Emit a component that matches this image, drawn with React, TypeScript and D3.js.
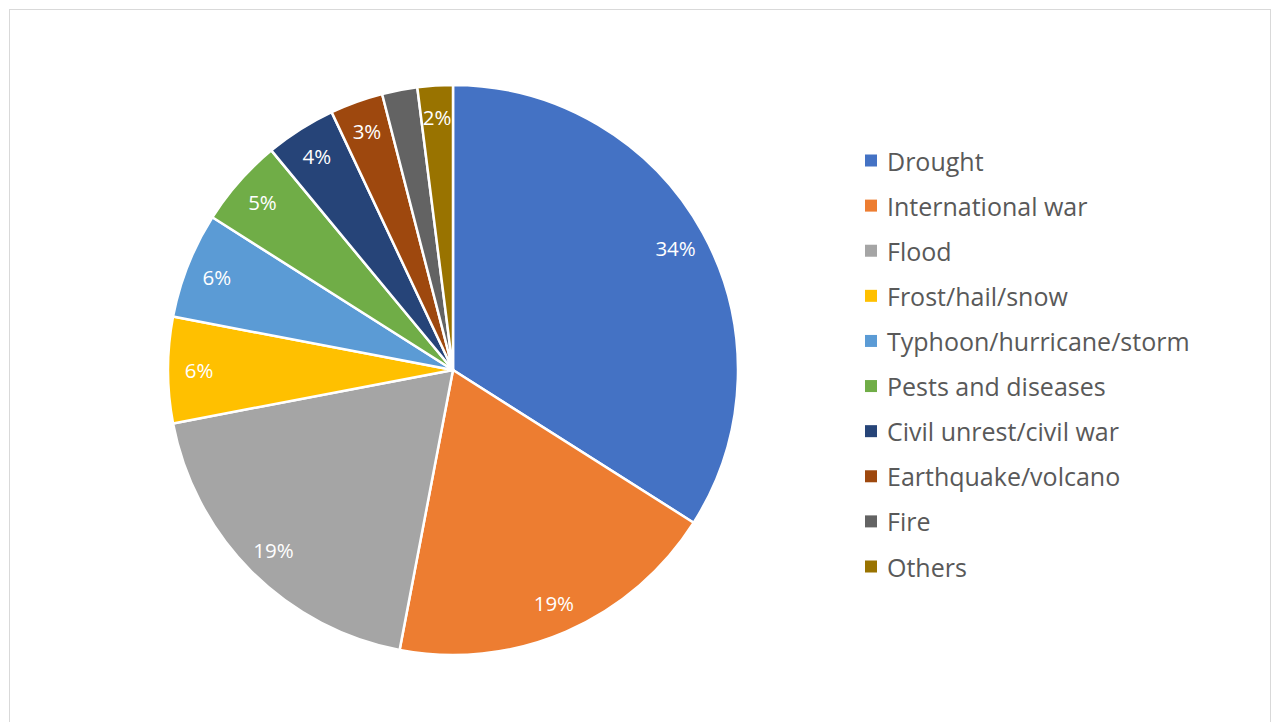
import React from "react";
import * as d3 from "d3";

const categories = [
  "Drought",
  "International war",
  "Flood",
  "Frost/hail/snow",
  "Typhoon/hurricane/storm",
  "Pests and diseases",
  "Civil unrest/civil war",
  "Earthquake/volcano",
  "Fire",
  "Others",
];
const values = [34, 19, 19, 6, 6, 5, 4, 3, 2, 2];
const showLabel = [true, true, true, true, true, true, true, true, false, true];
const colors = [
  "#4472C4",
  "#ED7D31",
  "#A5A5A5",
  "#FFC000",
  "#5B9BD5",
  "#70AD47",
  "#264478",
  "#9E480E",
  "#636363",
  "#997300",
];

const W = 1273;
const H = 722;
const cx = 453;
const cy = 370;
const R = 285;
const labelR = 254;
const font = "'Open Sans', 'DejaVu Sans', sans-serif";

export default function App() {
  const total = d3.sum(values);
  const pie = d3
    .pie<number>()
    .sort(null)
    .value((d) => d);
  const arcs = pie(values);
  const arc = d3.arc<d3.PieArcDatum<number>>().innerRadius(0).outerRadius(R);
  const labelArc = d3
    .arc<d3.PieArcDatum<number>>()
    .innerRadius(labelR)
    .outerRadius(labelR);

  const legendY = d3
    .scalePoint<number>()
    .domain(d3.range(categories.length))
    .range([160.5, 566.5]);

  return (
    <svg
      width={W}
      height={H}
      style={{ position: "absolute", left: 0, top: 0, display: "block", background: "#fff" }}
    >
      <rect x={9.5} y={9.5} width={1261} height={760} fill="#fff" stroke="#d9d9d9" strokeWidth={1} />
      <g transform={`translate(${cx},${cy})`}>
        {arcs.map((a, i) => (
          <path key={i} d={arc(a) || ""} fill={colors[i]} stroke="#fff" strokeWidth={2.5} strokeLinejoin="round" />
        ))}
        {arcs.map((a, i) => {
          if (!showLabel[i]) return null;
          const [x, y] = labelArc.centroid(a);
          return (
            <text
              key={i}
              x={x}
              y={y}
              textAnchor="middle"
              dominantBaseline="central"
              fill="#fff"
              fontFamily={font}
              fontSize={20.5}
            >
              {`${Math.round((values[i] / total) * 100)}%`}
            </text>
          );
        })}
      </g>
      <g>
        {categories.map((c, i) => (
          <g key={c} transform={`translate(865,${legendY(i)})`}>
            <rect x={0} y={-6} width={12} height={12} fill={colors[i]} />
            <text x={22} y={0} dominantBaseline="central" fill="#595959" fontFamily={font} fontSize={25}>
              {c}
            </text>
          </g>
        ))}
      </g>
    </svg>
  );
}
